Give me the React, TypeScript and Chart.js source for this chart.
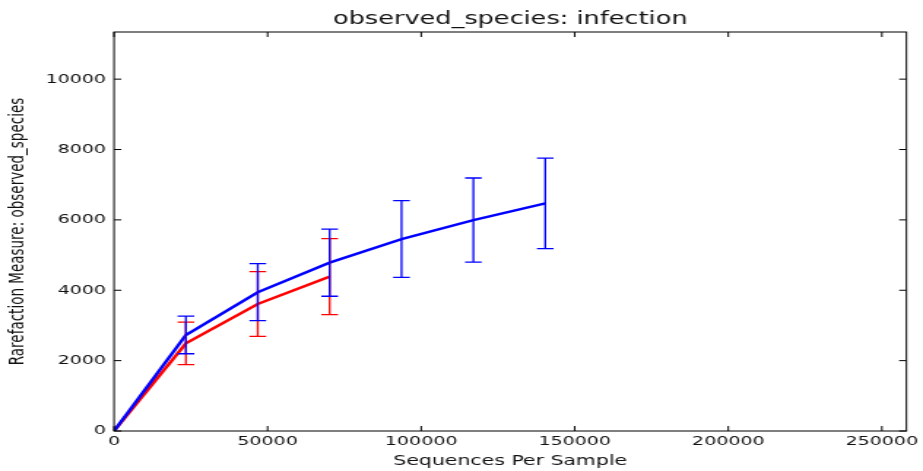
import React, { useEffect, useRef } from "react";
import { Chart, registerables } from "chart.js";

Chart.register(...registerables);

// ---- data ----
const blueDepths = [0, 23400, 46800, 70200, 93600, 117000, 140400];
const blueMeans = [0, 2730, 3945, 4785, 5455, 5995, 6470];
const blueErrors = [0, 535, 810, 955, 1090, 1195, 1285];

const redDepths = [0, 23400, 46800, 70200];
const redMeans = [0, 2490, 3610, 4385];
const redErrors = [0, 605, 920, 1080];

const xTickValues = [0, 50000, 100000, 150000, 200000, 250000];
const yTickValues = [0, 2000, 4000, 6000, 8000, 10000];

const chartTitle = "observed_species: infection";
const xTitle = "Sequences Per Sample";
const yTitle = "Rarefaction Measure: observed_species";

const xMin = 0;
const xMax = 258000;
const yMin = 0;
const yMax = 11340;

// ---- layout ----
const W = 923;
const H = 471;
const STRETCH = 1.46;
const IW = Math.round(W / STRETCH);
const AREA_LEFT = 114 / STRETCH;
const AREA_RIGHT = 907 / STRETCH;
const TEXT = "#111";
const FONT = "'DejaVu Sans', sans-serif";

export default function App() {
  const ref = useRef<HTMLCanvasElement>(null);

  useEffect(() => {
    const canvas = ref.current;
    if (!canvas) return;

    const errorBars = {
      id: "errorBars",
      afterDatasetsDraw(chart: any) {
        const { ctx, scales } = chart;
        const x = scales.x;
        const y = scales.y;
        const series: [number[], number[], number[], string][] = [
          [redDepths, redMeans, redErrors, "#ff0000"],
          [blueDepths, blueMeans, blueErrors, "#0000ff"],
        ];
        const cap = 5.7;
        ctx.save();
        ctx.lineWidth = 1.3;
        for (const [ds, ms, es, color] of series) {
          ctx.strokeStyle = color;
          for (let i = 0; i < ds.length; i++) {
            if (es[i] <= 0) continue;
            const px = x.getPixelForValue(ds[i]);
            const top = y.getPixelForValue(ms[i] + es[i]);
            const bot = y.getPixelForValue(ms[i] - es[i]);
            ctx.beginPath();
            ctx.moveTo(px, top);
            ctx.lineTo(px, bot);
            ctx.moveTo(px - cap, top);
            ctx.lineTo(px + cap, top);
            ctx.moveTo(px - cap, bot);
            ctx.lineTo(px + cap, bot);
            ctx.stroke();
          }
        }
        ctx.restore();
      },
    };

    const frame = {
      id: "frame",
      afterDraw(chart: any) {
        const { ctx, chartArea, scales } = chart;
        const { left, right, top, bottom } = chartArea;
        const tl = 5;
        ctx.save();
        ctx.strokeStyle = "#000";
        ctx.lineWidth = 1;
        ctx.strokeRect(left, top, right - left, bottom - top);
        ctx.beginPath();
        for (const t of scales.x.ticks) {
          const px = scales.x.getPixelForValue(t.value);
          ctx.moveTo(px, bottom);
          ctx.lineTo(px, bottom - tl);
          ctx.moveTo(px, top);
          ctx.lineTo(px, top + tl);
        }
        for (const t of scales.y.ticks) {
          const py = scales.y.getPixelForValue(t.value);
          ctx.moveTo(left, py);
          ctx.lineTo(left + tl, py);
          ctx.moveTo(right, py);
          ctx.lineTo(right - tl, py);
        }
        ctx.stroke();
        ctx.restore();
      },
    };

    const chart = new Chart(canvas, {
      type: "line",
      data: {
        datasets: [
          {
            label: "blue",
            data: blueDepths.map((x, i) => ({ x, y: blueMeans[i] })),
            borderColor: "#0000ff",
            backgroundColor: "#0000ff",
            borderWidth: 2.5,
            pointRadius: 0,
            fill: false,
            tension: 0,
          },
          {
            label: "red",
            data: redDepths.map((x, i) => ({ x, y: redMeans[i] })),
            borderColor: "#ff0000",
            backgroundColor: "#ff0000",
            borderWidth: 2.5,
            pointRadius: 0,
            fill: false,
            tension: 0,
          },
        ],
      },
      options: {
        responsive: false,
        animation: false,
        devicePixelRatio: 1,
        layout: {
          padding: { left: 0, right: IW - AREA_RIGHT, top: 0, bottom: 0 },
        },
        plugins: {
          legend: { display: false },
          tooltip: { enabled: false },
          title: {
            display: true,
            text: chartTitle,
            color: TEXT,
            fullSize: false,
            font: { family: FONT, size: 17.5, weight: "normal", lineHeight: 1.2 },
            padding: { top: 9, bottom: 2 },
          },
        },
        scales: {
          x: {
            type: "linear",
            min: xMin,
            max: xMax,
            grid: { display: false, drawTicks: false },
            border: { display: false },
            afterBuildTicks: (s: any) => {
              s.ticks = xTickValues.map((value) => ({ value }));
            },
            ticks: {
              autoSkip: false,
              maxRotation: 0,
              color: TEXT,
              padding: 3,
              font: { family: FONT, size: 13 },
              callback: (v: any) => String(v),
            },
            title: {
              display: true,
              text: xTitle,
              color: TEXT,
              font: { family: FONT, size: 14 },
              padding: { top: 0, bottom: 1 },
            },
            afterFit: (s: any) => {
              s.height = 40;
            },
          },
          y: {
            type: "linear",
            min: yMin,
            max: yMax,
            grid: { display: false, drawTicks: false },
            border: { display: false },
            afterBuildTicks: (s: any) => {
              s.ticks = yTickValues.map((value) => ({ value }));
            },
            ticks: {
              autoSkip: false,
              color: TEXT,
              padding: 5.5,
              font: { family: FONT, size: 13 },
              callback: (v: any) => String(v),
            },
            title: {
              display: true,
              text: yTitle,
              color: TEXT,
              font: { family: FONT, size: 13.5 },
              padding: { top: 4.5, bottom: 0 },
            },
            afterFit: (s: any) => {
              s.width = AREA_LEFT;
            },
          },
        },
      },
      plugins: [errorBars, frame],
    } as any);

    return () => chart.destroy();
  }, []);

  return (
    <div
      style={{
        position: "fixed",
        left: 0,
        top: 0,
        width: W,
        height: H,
        background: "#fff",
      }}
    >
      <canvas
        ref={ref}
        width={IW}
        height={H}
        style={{ width: W + "px", height: H + "px", display: "block" }}
      />
    </div>
  );
}
